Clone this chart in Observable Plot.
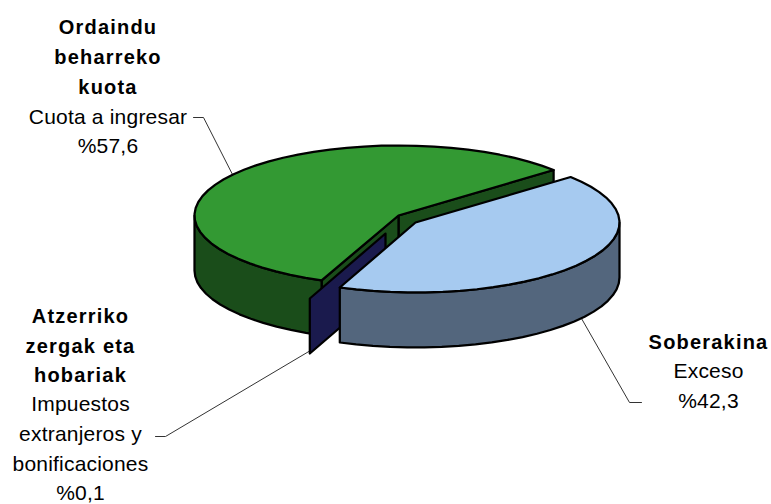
<!DOCTYPE html>
<html>
<head>
<meta charset="utf-8">
<style>html,body{margin:0;padding:0;background:#fff}svg{display:block}
.bold-label{letter-spacing:1.2px}.plain-label{letter-spacing:.2px}</style>
<script src="https://cdn.jsdelivr.net/npm/d3@7"></script>
<script src="https://cdn.jsdelivr.net/npm/@observablehq/plot@0.6"></script>
</head>
<body>
<script>
// Values
const sliceNames = ["Ordaindu beharreko kuota", "Atzerriko zergak eta hobariak", "Soberakina"];
const shares = [57.6, 0.1, 42.3];
const topColors = ["#339933", "#1a1a4d", "#a6caf0"];
const wallColors = ["#1a4d1a", "#1a1a4d", "#53667d"];

// Pie layout, in pixels of the identity scales
const radiusX = 204, radiusY = 70, depth = 55, startDeg = 40.5;
const centersX = [398, 385, 415];
const centersY = [215, 233, 222];

// Labels
const labelLines = [
  {x: 107.5, y: 27, text: "Ordaindu", bold: true},
  {x: 107.5, y: 57, text: "beharreko", bold: true},
  {x: 107.5, y: 87, text: "kuota", bold: true},
  {x: 107.5, y: 117, text: "Cuota a ingresar"},
  {x: 107.5, y: 146, text: "%57,6"},
  {x: 80, y: 316, text: "Atzerriko", bold: true},
  {x: 80, y: 346, text: "zergak eta", bold: true},
  {x: 80, y: 375, text: "hobariak", bold: true},
  {x: 80, y: 404, text: "Impuestos"},
  {x: 80, y: 434, text: "extranjeros y"},
  {x: 80, y: 464, text: "bonificaciones"},
  {x: 80, y: 493, text: "%0,1"},
  {x: 708, y: 342, text: "Soberakina", bold: true},
  {x: 708, y: 371, text: "Exceso"},
  {x: 708, y: 401, text: "%42,3"}
];
const leaders = [
  [[193, 117], [203, 117], [232, 174]],
  [[155, 436], [165, 436], [310, 350]],
  [[581, 318], [629, 402], [641, 402]]
];

// Geometry derived from the shares
let acc = startDeg;
const slices = shares.map((s, i) => {
  const a0 = acc, a1 = acc + s * 3.6;
  acc = a1;
  return {i, a0, a1, cx: centersX[i], cy: centersY[i]};
});
const rim = (s, deg, dz = 0) => {
  const r = deg * Math.PI / 180;
  return {x: s.cx + radiusX * Math.cos(r), y: s.cy - radiusY * Math.sin(r) + dz};
};
const arc = (s, a0, a1, dz = 0) => {
  const n = Math.max(1, Math.ceil(Math.abs(a1 - a0) / 5));
  return d3.range(n + 1).map(k => rim(s, a0 + (a1 - a0) * k / n, dz));
};
const center = (s, dz = 0) => ({x: s.cx, y: s.cy + dz});
const [green, sliver, blue] = slices;

const topFace = s => [center(s), ...arc(s, s.a0, s.a1)];
const sideFace = (s, deg) => [center(s), rim(s, deg), rim(s, deg, depth), center(s, depth)];
const outerWall = (s, a0, a1) => [...arc(s, a0, a1), ...arc(s, a1, a0, depth)];

const faces = [
  {pts: sideFace(green, green.a0), fill: wallColors[0]},
  {pts: sideFace(green, green.a1), fill: wallColors[0]},
  {pts: outerWall(green, 180, green.a1), fill: wallColors[0]},
  {pts: topFace(green), fill: topColors[0]},
  {pts: sideFace(sliver, sliver.a1), fill: wallColors[1]},
  {pts: outerWall(blue, blue.a0, 360), fill: wallColors[2]},
  {pts: topFace(blue), fill: topColors[2]}
];

const chart = Plot.plot({
  width: 771,
  height: 504,
  margin: 0,
  style: {background: "#fff"},
  x: {domain: [0, 771], range: [0, 771], axis: null},
  y: {domain: [0, 504], range: [0, 504], axis: null},
  marks: [
    ...leaders.map(l => Plot.line(l, {x: d => d[0], y: d => d[1], stroke: "#333", strokeWidth: 1})),
    ...faces.map(f => Plot.line(f.pts, {
      x: "x", y: "y", fill: f.fill, stroke: "#000", strokeWidth: 2.25,
      curve: "linear-closed", strokeLinejoin: "round"
    })),
    Plot.text(labelLines.filter(d => !d.bold), {
      x: "x", y: "y", text: "text", fontSize: 21, fill: "#000", className: "plain-label",
      fontFamily: "Liberation Sans", textAnchor: "middle"
    }),
    Plot.text(labelLines.filter(d => d.bold), {
      x: "x", y: "y", text: "text", fontSize: 20, fontWeight: "bold", fill: "#000", className: "bold-label",
      fontFamily: "Liberation Sans", textAnchor: "middle"
    })
  ]
});
document.body.appendChild(chart);
</script>
</body>
</html>
